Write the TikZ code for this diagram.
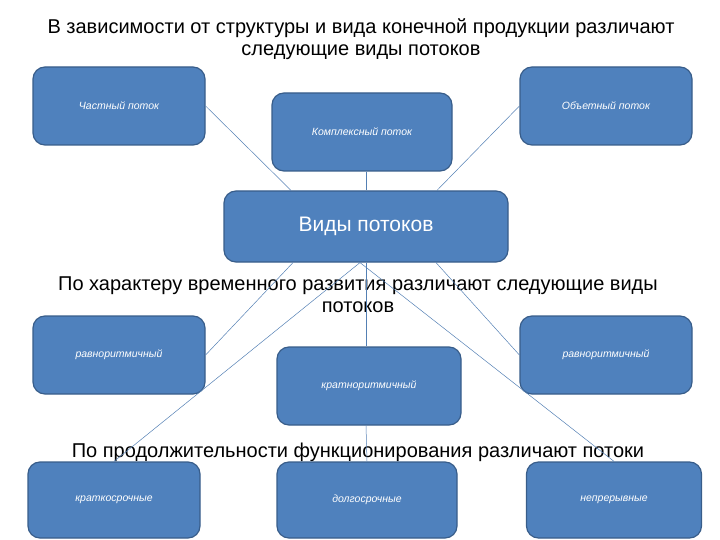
\documentclass[tikz,border=0pt]{standalone}
\usepackage{fontspec}
\setmainfont{Liberation Sans}
\usetikzlibrary{positioning}

\definecolor{boxblue}{RGB}{79,129,189}
\definecolor{boxedge}{RGB}{56,93,138}
\definecolor{linkblue}{RGB}{84,128,180}

\tikzset{
	vidbox/.style={draw=boxedge, line width=1.2pt, fill=boxblue, rounded corners=12pt,
		text=white, minimum width=172pt, minimum height=78pt, inner sep=0pt,
		font=\fontsize{10.5}{12}\selectfont\itshape},
	headline/.style={align=center, inner sep=0pt, font=\fontsize{20}{22}\selectfont},
	link/.style={draw=linkblue, line width=0.5pt}
}

\begin{document}
\begin{tikzpicture}[x=1pt,y=-1pt]
		\useasboundingbox (0,0) rectangle (720,540);
		% headings
		\node[headline] (head1) at (361,39) {В зависимости от структуры и вида конечной продукции различают\\следующие виды потоков};
		\node[headline] (head2) at (358,295) {По характеру временного развития различают следующие виды\\потоков};
		\node[headline] (head3) at (358,452) {По продолжительности функционирования различают потоки};
		%
		\node[vidbox] (chast) at (119,106) {Частный поток};
		\node[vidbox, minimum width=180pt] (kompl) at (362,132) {Комплексный поток};
		\node[vidbox] (obekt) at (606,106) {Объетный поток};
		\node[vidbox, minimum width=284pt, minimum height=71pt, font=\fontsize{21}{24}\selectfont] (vidy) at (366,226.5) {Виды потоков};
		\node[vidbox] (ravnL) at (119,355) {равноритмичный};
		\node[vidbox, minimum width=184pt] (kratn) at (369,386) {кратноритмичный};
		\node[vidbox] (ravnR) at (606,355) {равноритмичный};
		\node[vidbox, minimum height=76pt] (kratko) at (114,500) {краткосрочные};
		\node[vidbox, minimum width=180pt, minimum height=76pt] (dolgo) at (367,500) {долгосрочные};
		\node[vidbox, minimum width=175pt, minimum height=76pt] (nepr) at (614,500) {непрерывные};
		%
		\path[link]
		(chast.east) edge ([xshift=-75pt]vidy.north)
		(obekt.west) edge ([xshift=71pt]vidy.north)
		(kompl.south -| vidy.north) edge (vidy.north)
		([xshift=-73pt]vidy.south) edge (ravnL.east)
		([xshift=70pt]vidy.south) edge (ravnR.west)
		([xshift=-6pt]vidy.south) edge (kratko.north)
		([xshift=-6pt]vidy.south) edge (nepr.north)
		(vidy.south) edge (vidy.south |- kratn.north)
		(kratn.south -| vidy.south) edge (dolgo.north);
\end{tikzpicture}
\end{document}
